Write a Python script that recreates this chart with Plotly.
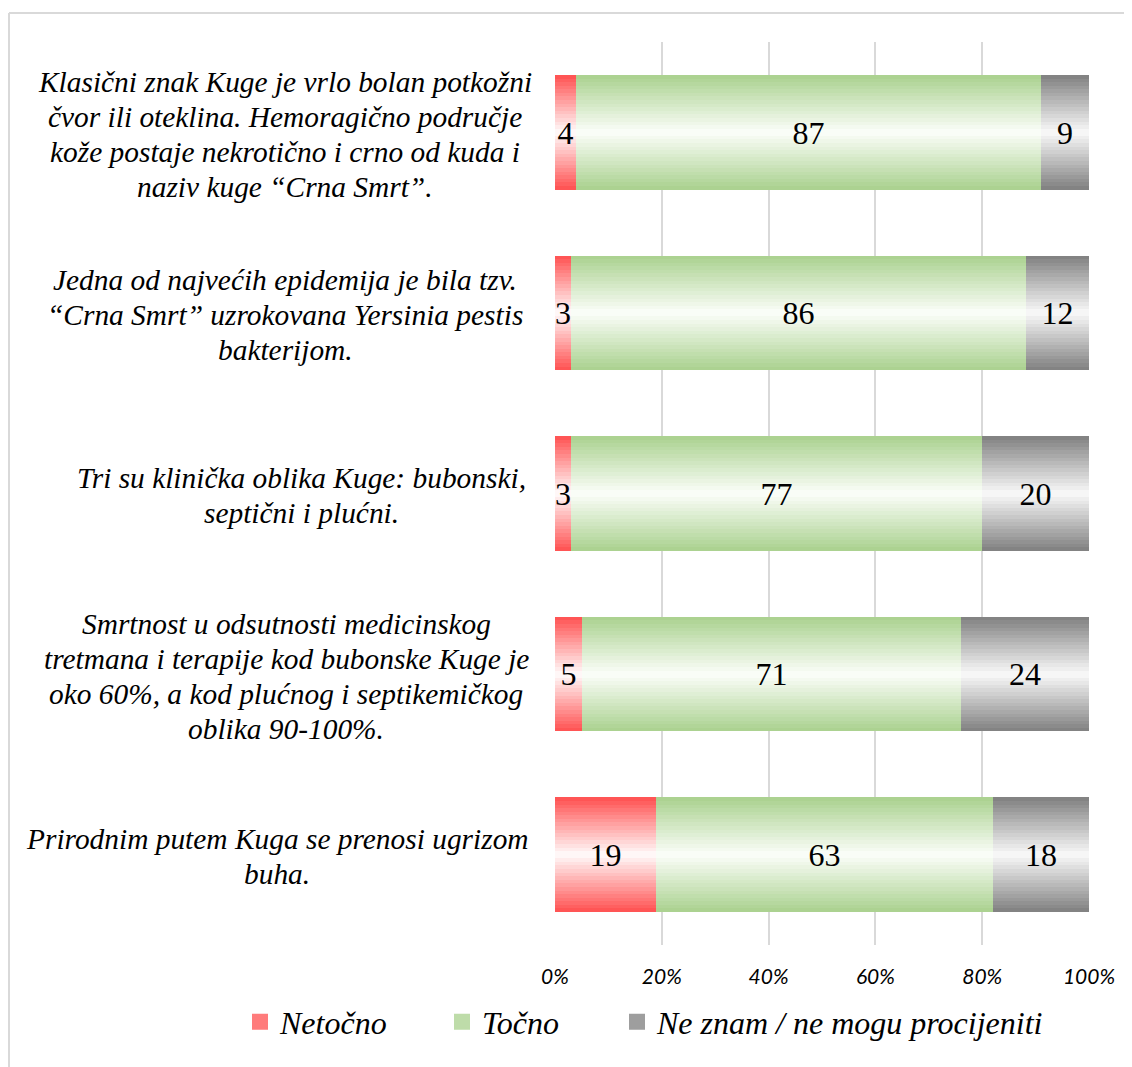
import plotly.graph_objects as go

# ---------------- data ----------------
categories = [
    "Klasični znak Kuge je vrlo bolan potkožni<br>čvor ili oteklina. Hemoragično područje<br>kože postaje nekrotično i crno od kuda i<br>naziv kuge “Crna Smrt”.",
    "Jedna od najvećih epidemija je bila tzv.<br>“Crna Smrt” uzrokovana Yersinia pestis<br>bakterijom.",
    "Tri su klinička oblika Kuge: bubonski,<br>septični i plućni.",
    "Smrtnost u odsutnosti medicinskog<br>tretmana i terapije kod bubonske Kuge je<br>oko 60%, a kod plućnog i septikemičkog<br>oblika 90-100%.",
    "Prirodnim putem Kuga se prenosi ugrizom<br>buha.",
]
series_names = ["Netočno", "Točno", "Ne znam / ne mogu procijeniti"]
netocno = [4, 3, 3, 5, 19]
tocno = [87, 86, 77, 71, 63]
ne_znam = [9, 12, 20, 24, 18]
x_ticks = [0, 20, 40, 60, 80, 100]
x_tick_labels = ["0%", "20%", "40%", "60%", "80%", "100%"]

# ---------------- style ----------------
O = 8  # page body margin of the html page
W, H = 1132 - O, 1067 - O
PLOT_L, PLOT_R, PLOT_T, PLOT_B = 555, 1089, 42, 945  # page pixels
ML, MR, MT, MB = PLOT_L - O, 1132 - PLOT_R, PLOT_T - O, 1067 - PLOT_B
PW, PH = PLOT_R - PLOT_L, PLOT_B - PLOT_T
edge_colors = [(255, 80, 80), (169, 209, 142), (127, 127, 127)]
center_colors = [(255, 252, 252), (252, 254, 250), (250, 250, 250)]
BAR_W = 0.635
N_LAYERS = 16
SERIF = "Liberation Serif"
label_center_px = [285, 285, 301, 286, 277]
LINE_STEP = 35
legend_widths = [157, 130, None]

values = [netocno, tocno, ne_znam]


def lerp(c0, c1, t):
    return "rgb(%d,%d,%d)" % tuple(round(a + (b - a) * t) for a, b in zip(c0, c1))


def px_x(p):
    return (p - PLOT_L) / PW


def px_y(p):
    return (PLOT_B - p) / PH


fig = go.Figure()

for k in range(N_LAYERS + 1):
    yname = "y" if k == 0 else "y%d" % (k + 1)
    is_text_layer = k == N_LAYERS
    width = BAR_W if is_text_layer else BAR_W * (1 - k / N_LAYERS)
    t = 0 if is_text_layer else min(1.0, (k + 0.5) / N_LAYERS)
    for s, name in enumerate(series_names):
        color = "rgba(0,0,0,0)" if is_text_layer else lerp(edge_colors[s], center_colors[s], t)
        kw = {}
        if is_text_layer:
            kw = dict(
                text=[str(v) for v in values[s]],
                textposition="inside",
                insidetextanchor="middle",
                textangle=0,
                constraintext="none",
                textfont=dict(family=SERIF, size=32, color="#000"),
                cliponaxis=False,
            )
        fig.add_trace(
            go.Bar(
                x=values[s],
                y=categories,
                orientation="h",
                name=name,
                width=[width] * len(categories),
                marker=dict(color=color, line=dict(width=0)),
                showlegend=False,
                yaxis=yname,
                hoverinfo="skip",
                **kw,
            )
        )

# legend entries (larger square swatches than the bar legend icon)
for s, name in enumerate(series_names):
    kw = {}
    if legend_widths[s] is not None:
        kw["legendwidth"] = legend_widths[s]
    fig.add_trace(
        go.Scatter(
            x=[None],
            y=[None],
            mode="markers",
            name=name,
            marker=dict(
                symbol="square",
                size=16,
                color=lerp(edge_colors[s], center_colors[s], 0.25),
                line=dict(width=0),
            ),
            legendrank=s,
            showlegend=True,
            hoverinfo="skip",
            **kw,
        )
    )

layout_axes = {}
for k in range(1, N_LAYERS + 1):
    layout_axes["yaxis%d" % (k + 1)] = dict(
        overlaying="y",
        matches="y",
        visible=False,
        showticklabels=False,
        showgrid=False,
    )

annotations = []
for i, cat in enumerate(categories):
    lines = cat.split("<br>")
    n = len(lines)
    for j, line in enumerate(lines):
        annotations.append(
            dict(
                x=px_x(label_center_px[i]),
                xref="paper",
                y=i,
                yref="y",
                yshift=-((j - (n - 1) / 2) * LINE_STEP) - 2,
                text=line,
                showarrow=False,
                xanchor="center",
                yanchor="middle",
                align="center",
                font=dict(family=SERIF, size=29.4, style="italic", color="#000"),
            )
        )

shapes = [
    dict(type="line", xref="paper", yref="paper",
         x0=px_x(9), x1=px_x(1140), y0=px_y(13), y1=px_y(13),
         line=dict(color="#d9d9d9", width=2)),
    dict(type="line", xref="paper", yref="paper",
         x0=px_x(9), x1=px_x(9), y0=px_y(13), y1=px_y(1075),
         line=dict(color="#d9d9d9", width=2)),
]

fig.update_layout(
    width=W,
    height=H,
    autosize=False,
    margin=dict(l=ML, r=MR, t=MT, b=MB, pad=0),
    paper_bgcolor="white",
    plot_bgcolor="white",
    barmode="stack",
    barnorm="percent",
    bargap=0,
    xaxis=dict(
        range=[0, 100],
        tickvals=x_ticks,
        ticktext=x_tick_labels,
        showgrid=True,
        gridcolor="#d9d9d9",
        gridwidth=2,
        zeroline=False,
        showline=False,
        ticks="",
        ticklabelstandoff=17,
        tickfont=dict(family="Lato", size=21, style="italic", color="#000"),
        fixedrange=True,
    ),
    yaxis=dict(
        autorange="reversed",
        showticklabels=False,
        showgrid=False,
        zeroline=False,
        categoryorder="array",
        categoryarray=categories,
    ),
    legend=dict(
        orientation="h",
        x=px_x(240),
        xanchor="left",
        y=px_y(1022),
        yanchor="middle",
        font=dict(family=SERIF, size=32, style="italic", color="#000"),
        traceorder="normal",
        bgcolor="rgba(0,0,0,0)",
    ),
    annotations=annotations,
    shapes=shapes,
    showlegend=True,
    **layout_axes,
)

fig.write_html("out.html")
